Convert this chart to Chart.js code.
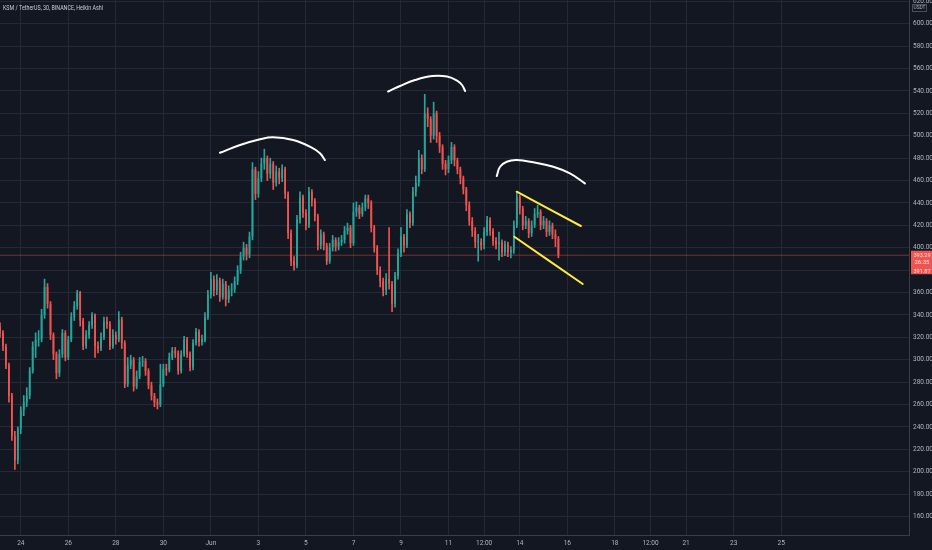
<!DOCTYPE html>
<html>
<head>
<meta charset="utf-8">
<script src="https://cdn.jsdelivr.net/npm/chart.js@4"></script>
<style>
  html, body { margin: 0; padding: 0; background: #131722; overflow: hidden; }
  #wrap { width: 932px; height: 550px; }
</style>
</head>
<body>
<div id="wrap"><canvas id="chart" width="932" height="550"></canvas></div>
<script>
// KSM / USDT, Heikin Ashi candles (3-hour buckets), days counted from May 24 00:00
const title = 'KSM / TetherUS, 30, BINANCE, Heikin Ashi';
const firstOpen = 330;
const startDay = -0.875;
const stepDay = 0.125;

const closes = [
  324,312,295,268,232,210,238,255,262,268,
  290,312,318,318,340,365,350,322,305,288,
  305,324,302,318,338,348,360,335,312,322,
  331,340,312,310,320,334,332,312,322,318,
  336,315,278,295,300,276,285,298,299,290,
  277,268,262,260,278,292,291,302,308,306,
  290,305,318,305,293,315,325,316,318,338,
  358,372,362,371,356,368,354,362,363,370,
  380,392,400,394,410,470,448,462,475,480,
  466,475,458,468,462,470,448,413,388,384,
  425,445,431,420,450,442,428,402,412,402,
  388,400,407,401,405,407,415,418,404,432,
  436,430,436,444,440,418,400,380,370,362,
  372,368,350,375,395,410,402,430,422,450,
  458,480,470,520,515,500,520,500,490,475,
  470,478,490,478,470,462,452,438,424,415,
  405,405,402,414,425,415,406,403,405,396,
  403,396,398,420,445,435,420,424,413,420,
  430,432,420,424,414,420,412,408,393.29
];
const highs = [
  333,326,314,297,270,236,240,258,268,275,
  293,316,324,326,345,372,368,352,324,307,
  309,327,326,321,342,352,362,361,337,326,
  334,342,341,316,324,338,338,334,327,325,
  343,338,317,302,304,302,290,302,303,301,
  292,280,270,265,296,296,296,306,311,311,
  308,308,321,320,307,318,328,327,322,342,
  362,378,375,376,373,372,370,366,368,374,
  384,396,405,403,414,476,472,468,480,488,
  482,480,477,473,471,474,472,450,416,392,
  429,450,447,434,454,452,444,430,416,414,
  404,404,411,409,409,411,419,422,420,440,
  441,438,440,447,447,442,420,402,383,373,
  377,418,370,378,399,418,412,434,432,454,
  464,487,483,537,525,517,530,522,503,492,
  478,482,494,492,480,472,464,454,441,427,
  418,412,408,418,428,427,417,409,414,407,
  406,405,401,424,450,447,437,428,426,424,
  435,438,434,428,426,424,422,416,410
];
const lows = [
  320,308,292,262,228,202,207,234,250,258,
  265,288,302,312,316,337,346,318,300,283,
  285,302,299,300,316,335,345,330,309,310,
  319,328,302,306,308,318,328,309,310,314,
  316,310,275,276,292,272,274,283,294,286,
  274,264,258,256,258,276,286,289,300,302,
  287,288,303,302,290,291,313,312,313,316,
  336,355,357,358,352,354,348,351,357,360,
  367,377,389,389,391,407,443,445,459,470,
  460,462,452,455,457,459,444,408,384,380,
  382,422,427,416,418,437,424,398,399,398,
  385,386,397,397,398,402,404,412,400,402,
  428,426,428,433,435,414,396,376,365,357,
  358,363,343,347,372,392,396,400,418,420,
  446,455,466,468,508,494,497,494,485,470,
  465,467,475,473,466,457,448,433,420,410,
  400,388,398,399,411,411,402,399,389,392,
  393,392,391,395,418,430,416,417,409,410,
  418,427,416,417,410,411,408,401,391
];

const priceTicks = [160,180,200,220,240,260,280,300,320,340,360,380,400,420,440,460,480,500,520,540,560,580,600,620];
const dayTicks  = [0,2,4,6,8,10,12,14,16,18,19.5,21,23,25,26.5,28,30,32];
const dayLabels = ['24','26','28','30','Jun','3','5','7','9','11','12:00','14','16','18','12:00','21','23','25'];
const priceTag = ['393.29','26:35','391.87'];

// hand-drawn annotations: [day, price]
const arcOne   = [[8.38,484.8],[9.23,491.7],[10.07,496.8],[10.61,498.6],[11.46,496.2],[12.17,490.2],[12.59,484.3],[12.80,478.3]];
const arcTwo   = [[15.46,539.5],[15.96,544.4],[16.59,549.7],[17.31,553.3],[17.94,552.9],[18.36,549.3],[18.57,545.3],[18.70,539.9]];
const arcThree = [[20.03,464.0],[20.17,472.3],[20.45,476.8],[20.87,478.3],[21.57,476.3],[22.41,472.3],[23.11,466.4],[23.74,457.5]];
const channelTop    = [[20.87,450.0],[23.57,419.4]];
const channelBottom = [[20.77,409.8],[23.65,367.6]];

const X_MIN = -0.875, X_MAX = 37.38, Y_MIN = 143.5, Y_MAX = 621.2;
const UP = '#26a69a', DOWN = '#ef5350';
const GRID = '#252935';
const TEXT = '#b2b5be';

const opens = closes.map((c, i) => i === 0 ? firstOpen : closes[i - 1]);
const times = closes.map((_, i) => startDay + i * stepDay);
const colors = closes.map((c, i) => c >= opens[i] ? UP : DOWN);
const lastPrice = closes[closes.length - 1];
const pts = arr => arr.map(([x, y]) => ({ x, y }));

function drawing(data, color, width) {
  return {
    type: 'line', data: pts(data), borderColor: color, borderWidth: width,
    pointRadius: 0, tension: 0.4, fill: false, order: 0, borderCapStyle: 'round'
  };
}

const background = {
  id: 'background',
  beforeDraw(chart) {
    const ctx = chart.ctx;
    ctx.save();
    ctx.fillStyle = '#131722';
    ctx.fillRect(0, 0, chart.width, chart.height);
    ctx.restore();
  }
};

const overlay = {
  id: 'overlay',
  afterDraw(chart) {
    const ctx = chart.ctx;
    const ys = chart.scales.y;
    ctx.save();
    // symbol caption
    ctx.fillStyle = '#c9ccd4';
    ctx.font = '7px Roboto';
    ctx.textBaseline = 'middle';
    ctx.textAlign = 'left';
    ctx.fillText(title, 3, 8, 100);
    // currency box on the price scale
    ctx.strokeStyle = '#4a4e59';
    ctx.lineWidth = 1;
    ctx.strokeRect(912.5, 4.5, 14, 7);
    ctx.fillStyle = TEXT;
    ctx.font = '5px Roboto';
    ctx.textAlign = 'center';
    ctx.fillText('USDT', 919.5, 8.2, 12);
    // last price tag
    const py = ys.getPixelForValue(lastPrice);
    ctx.fillStyle = '#f05350';
    ctx.fillRect(911, py - 4.5, 21, 23.5);
    ctx.fillStyle = '#ffe9e9';
    ctx.font = '6px Roboto';
    ctx.textAlign = 'left';
    ctx.fillText(priceTag[0], 913.5, py + 0.3, 17);
    ctx.fillText(priceTag[1], 914.5, py + 6.8, 15);
    ctx.fillText(priceTag[2], 913.5, py + 15.8, 17);
    ctx.restore();
  }
};

new Chart(document.getElementById('chart'), {
  type: 'bar',
  data: {
    datasets: [
      {
        label: 'wicks',
        data: times.map((t, i) => ({ x: t, y: [lows[i], highs[i]] })),
        backgroundColor: colors, borderWidth: 0,
        barThickness: 1, grouped: false, order: 3
      },
      {
        label: 'bodies',
        data: times.map((t, i) => ({ x: t, y: [opens[i], closes[i]] })),
        backgroundColor: colors, borderWidth: 0, minBarLength: 1,
        barPercentage: 0.6, categoryPercentage: 1, grouped: false, order: 2
      },
      {
        type: 'line', label: 'last',
        data: [{ x: X_MIN, y: lastPrice }, { x: X_MAX, y: lastPrice }],
        borderColor: 'rgba(239,83,80,0.45)', borderWidth: 1,
        pointRadius: 0, order: 4
      },
      drawing(arcOne, '#ffffff', 2),
      drawing(arcTwo, '#ffffff', 2),
      drawing(arcThree, '#ffffff', 2),
      drawing(channelTop, '#ffeb3b', 2),
      drawing(channelBottom, '#ffeb3b', 2)
    ]
  },
  options: {
    responsive: false,
    animation: false,
    events: [],
    layout: { padding: 0 },
    plugins: { legend: { display: false }, tooltip: { enabled: false } },
    scales: {
      x: {
        type: 'linear', min: X_MIN, max: X_MAX, offset: false,
        grid: { color: GRID, drawTicks: false, offset: false },
        border: { color: '#3a3e4a' },
        ticks: {
          autoSkip: false, maxRotation: 0, padding: 4, color: TEXT,
          font: { family: 'Roboto', size: 6.5 },
          callback: (v, i) => dayLabels[i]
        },
        afterBuildTicks: s => { s.ticks = dayTicks.map(v => ({ value: v })); },
        afterFit: s => { s.height = 15; s.paddingLeft = 0; s.paddingRight = 0; }
      },
      y: {
        position: 'right', min: Y_MIN, max: Y_MAX,
        grid: { color: GRID, drawTicks: false },
        border: { color: '#3a3e4a' },
        ticks: {
          padding: 4, color: TEXT,
          font: { family: 'Roboto', size: 6.5 },
          callback: v => v.toFixed(2)
        },
        afterBuildTicks: s => { s.ticks = priceTicks.map(v => ({ value: v })); },
        afterFit: s => { s.width = 23; s.paddingTop = 0; s.paddingBottom = 0; }
      }
    }
  },
  plugins: [background, overlay]
});
</script>
</body>
</html>
